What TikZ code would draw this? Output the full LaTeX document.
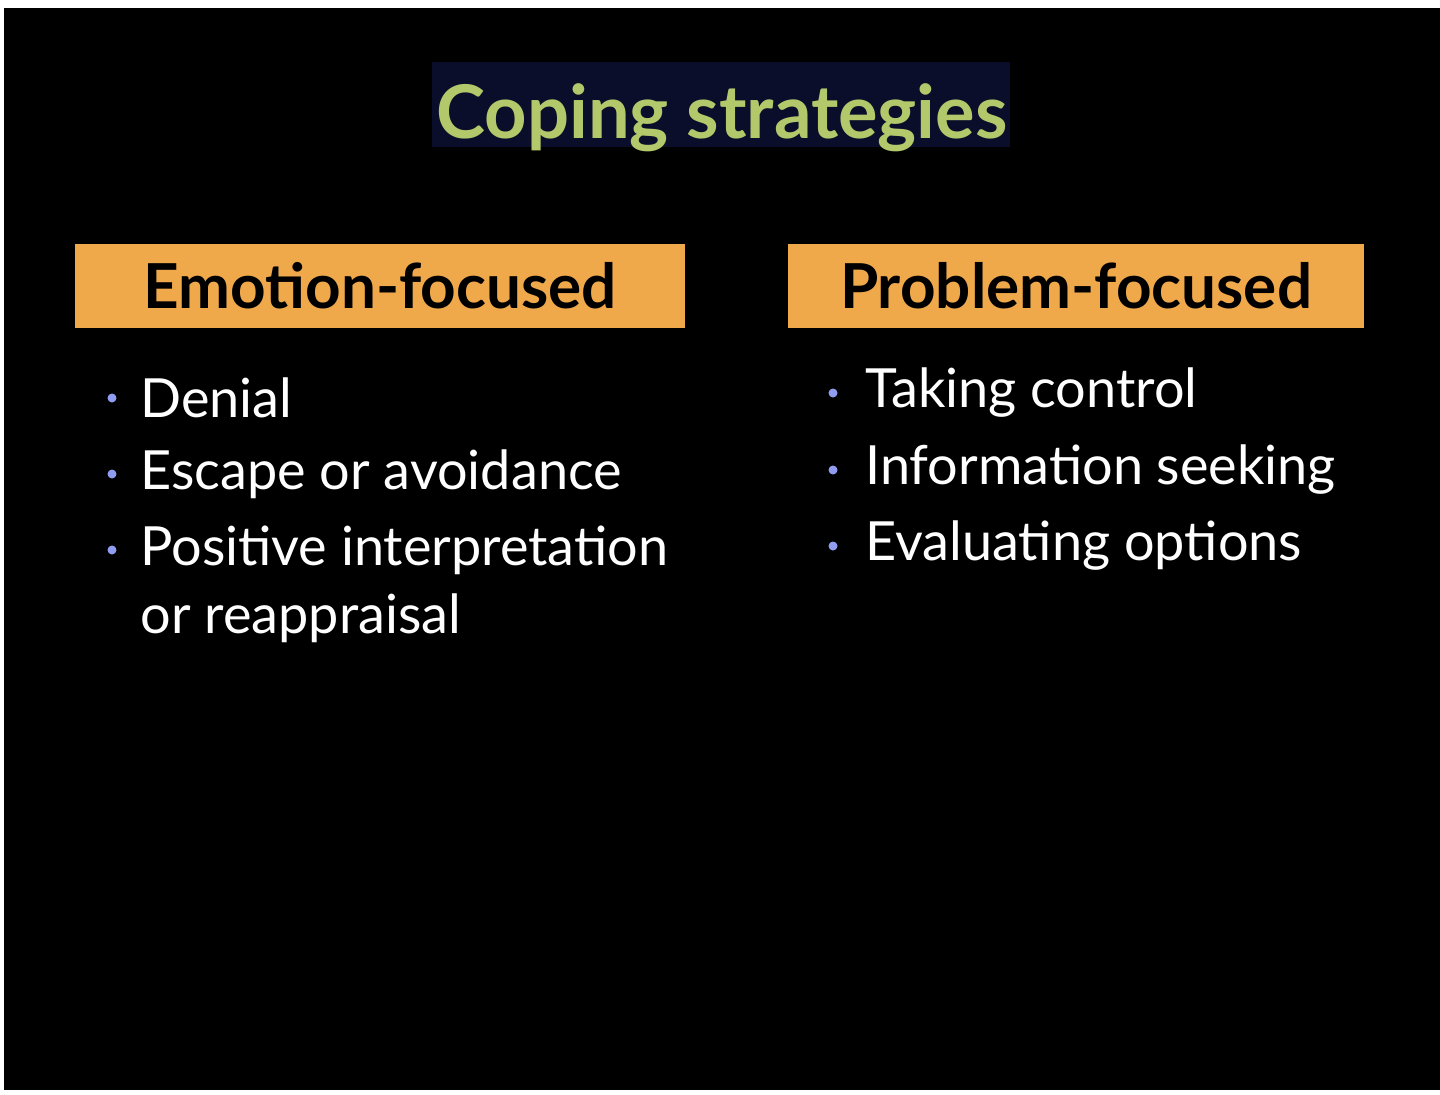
\documentclass[tikz,border=0pt]{standalone}
\usepackage{fontspec}
\setmainfont{Lato}
\begin{document}
\begin{tikzpicture}[x=0.5pt,y=-0.5pt,
 head/.style={fill=orange!70!yellow!90!black, fill=hdr, minimum width=#1, minimum height=42pt, inner sep=0pt, font=\fontsize{31}{34}\selectfont\bfseries, text=black},
 item/.style={anchor=west, text=white, font=\fontsize{27}{31}\selectfont, align=left, inner sep=0pt},
 bul/.style={circle, fill=bulc, inner sep=0pt, minimum size=4.5pt}]
\definecolor{hdr}{HTML}{EFA84A}
\definecolor{bulc}{HTML}{8F9CF0}
\definecolor{ttl}{HTML}{B2C86A}
\definecolor{tbg}{HTML}{0B0E2A}
\useasboundingbox (0,0) rectangle (1440,1094);
\fill[white] (0,0) rectangle (1440,1094);
\fill[black] (4,8) rectangle (1440,1090);
\fill[tbg] (432,62) rectangle (1010,147);
\node[text=ttl, font=\fontsize{37}{40}\selectfont\bfseries] (title) at (722,118) {Coping strategies};
\node[head=305pt] (emo) at (380,286) {Emotion-focused};
\node[head=288pt] (prob) at (1076,286) {Problem-focused};
\node[bul] (b1) at (112,398) {}; \node[item] (t1) at (140,398) {Denial};
\node[bul] (b2) at (112,474) {}; \node[item] (t2) at (140,474) {Escape or avoidance};
\node[bul] (b3) at (112,550) {}; \node[item] (t3) at (140,550) {Positive interpretation};
\node[item] (t4) at (140,618) {or reappraisal};
\node[bul] (b5) at (833,393) {}; \node[item] (t5) at (865,393) {Taking control};
\node[bul] (b6) at (833,470) {}; \node[item] (t6) at (865,470) {Information seeking};
\node[bul] (b7) at (833,546) {}; \node[item] (t7) at (865,546) {Evaluating options};
\end{tikzpicture}
\end{document}
